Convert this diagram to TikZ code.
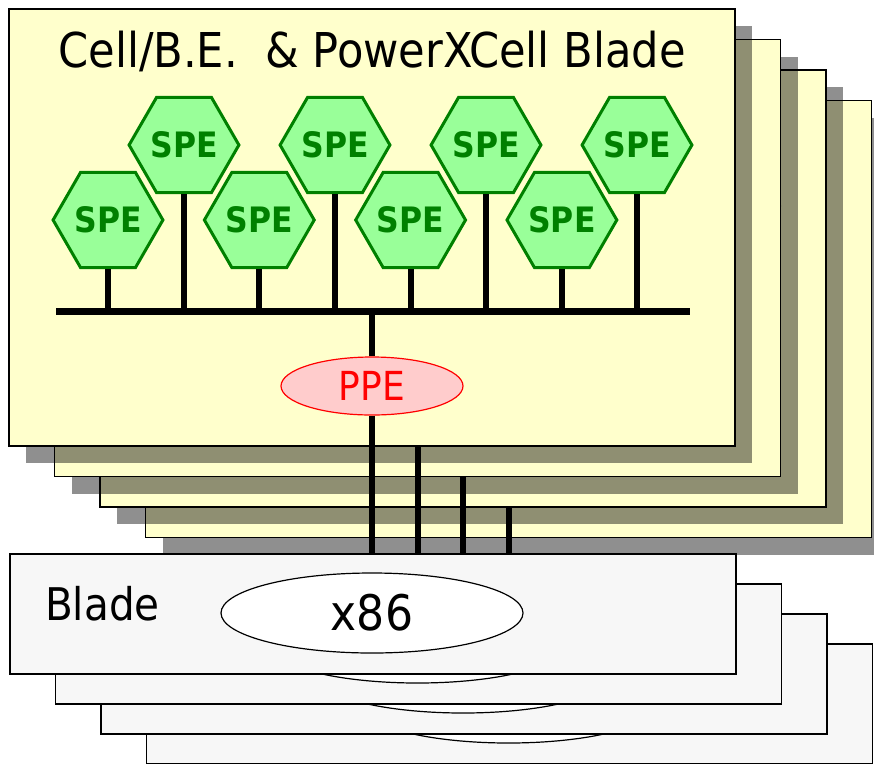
\documentclass[tikz,border=0pt]{standalone}
\usepackage{fontspec}
\setmainfont{DejaVu Sans Condensed}
\usepackage{tikz}
\usetikzlibrary{shapes.geometric,calc}
\definecolor{boardbg}{HTML}{FFFFCC}
\definecolor{bladebg}{HTML}{F7F7F7}
\definecolor{spefill}{HTML}{99FF99}
\definecolor{speline}{HTML}{008000}
\definecolor{ppefill}{HTML}{FFCCCC}

\tikzset{
  board/.style={draw=black,line width=1.5pt,fill=boardbg},
  boardshadow/.style={fill=black,fill opacity=0.44},
  spe/.style={regular polygon,regular polygon sides=6,minimum size=103pt,inner sep=0pt,
              draw=speline,fill=spefill,line width=3pt,text=speline,
              font=\fontsize{35}{38}\selectfont\bfseries},
  ppe/.style={ellipse,minimum width=182pt,minimum height=58pt,inner sep=0pt,
              draw=red,fill=ppefill,line width=1.2pt,text=red,
              font=\fontsize{40}{42}\selectfont},
  bus/.style={line width=7pt},
  stem/.style={line width=6pt},
  blade/.style={draw=black,line width=1.5pt,fill=bladebg,inner sep=0pt,
                minimum width=726pt,minimum height=120pt,anchor=north west},
  cpu/.style={ellipse,minimum width=302pt,minimum height=80pt,inner sep=0pt,
              draw=black,fill=white,line width=1.2pt,
              font=\fontsize{49}{52}\selectfont},
}

\begin{document}
\begin{tikzpicture}[x=1pt,y=-1pt]
  \useasboundingbox (0,0) rectangle (874,763);
  \clip (0,0) rectangle (874,763);
  \coordinate (bladetop) at (0,553);

  % Cell boards, back to front
  \foreach \k in {4,3,2,1}{
    \begin{scope}[shift={({45.5*(\k-1)},{30.5*(\k-1)})}]
      \fill[boardshadow] (26,26) rectangle (752,463);
      \draw[board] (9,9) rectangle (735,446);
      \coordinate (busL\k) at (56,311.5);
      \coordinate (busR\k) at (690,311.5);
      \draw[bus] (busL\k) -- (busR\k);
      \foreach \i in {0,...,3}{
        \node[spe] (speB\k-\i) at ({108+151.3*\i},220) {\ifnum\k=1 SPE\fi};
        \node[spe] (speT\k-\i) at ({184+151*\i},145) {\ifnum\k=1 SPE\fi};
        \draw[stem] (speB\k-\i.south) -- (speB\k-\i.south |- busL\k);
        \draw[stem] (speT\k-\i.south) -- (speT\k-\i.south |- busL\k);
      }
      \node[ppe] (ppe\k) at (372,386) {\ifnum\k=1 PPE\fi};
      \draw[stem] (ppe\k.north) -- (ppe\k.north |- busL\k);
      \draw[stem] (ppe\k.south) -- (ppe\k.south |- bladetop);
    \end{scope}
  }
  \node[anchor=base,font=\fontsize{48}{50}\selectfont] (title) at (372,67)
    {Cell/B.E.~~\& PowerXCell Blade};

  % x86 blades
  \foreach \k in {4,3,2,1}{
    \begin{scope}[shift={({45.5*(\k-1)},{30*(\k-1)})}]
      \node[blade] (blade\k) at (9,553) {};
      \node[cpu] (cpu\k) at (372,613) {\ifnum\k=1 x86\fi};
    \end{scope}
  }
  \node[anchor=base west,inner sep=0pt,font=\fontsize{45}{48}\selectfont] (bladelabel)
    at (45,620) {Blade};
\end{tikzpicture}
\end{document}
